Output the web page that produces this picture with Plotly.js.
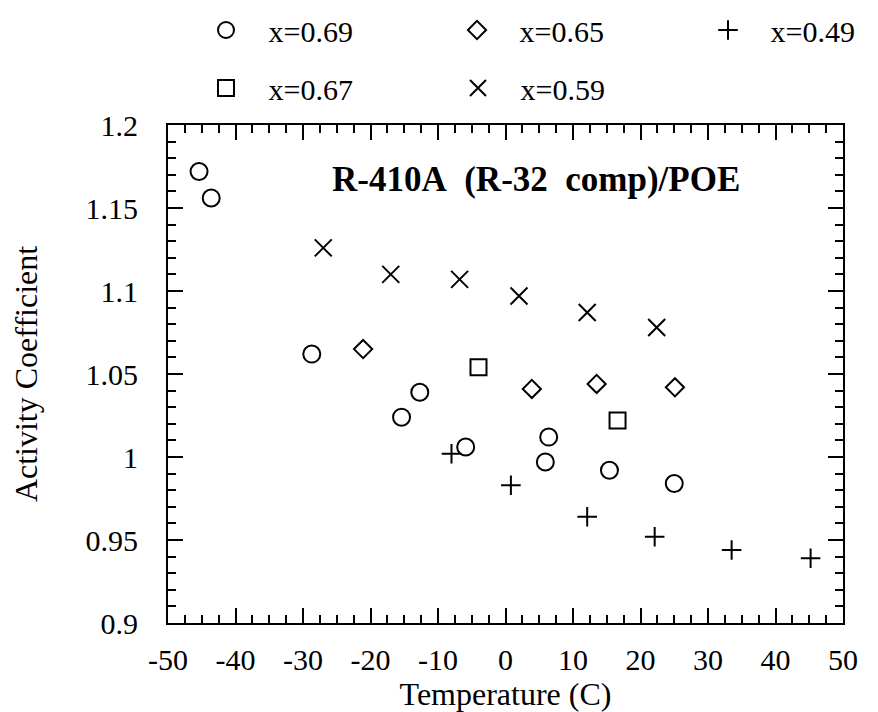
<!DOCTYPE html>
<html>
<head>
<meta charset="utf-8">
<script src="https://cdn.plot.ly/plotly-3.0.1.min.js"></script>
<style>html,body{margin:0;padding:0;background:#fff}#chart{width:878px;height:712px}</style>
</head>
<body>
<div id="chart"></div>
<script>
// x = 0.69 (circles)
const circX = [-45.4, -43.6, -28.7, -15.4, -12.7, -5.9, 5.9, 6.4, 15.4, 25.0];
const circY = [1.172, 1.156, 1.062, 1.024, 1.039, 1.006, 0.997, 1.012, 0.992, 0.984];
// x = 0.65 (diamonds)
const diamX = [-21.1, 3.9, 13.5, 25.1];
const diamY = [1.065, 1.041, 1.044, 1.042];
// x = 0.49 (plus)
const plusX = [-8.0, 0.8, 12.1, 22.1, 33.5, 45.2];
const plusY = [1.002, 0.983, 0.964, 0.952, 0.944, 0.939];
// x = 0.67 (squares)
const sqX = [-4.0, 16.6];
const sqY = [1.054, 1.022];
// x = 0.59 (x marks)
const xmX = [-27.0, -17.0, -6.8, 2.0, 12.1, 22.4];
const xmY = [1.126, 1.110, 1.107, 1.097, 1.087, 1.078];

const seriesNames = ["x=0.69", "x=0.65", "x=0.49", "x=0.67", "x=0.59"];

const xTickVals = [-50, -40, -30, -20, -10, 0, 10, 20, 30, 40, 50];
const xTickText = ["-50", "-40", "-30", "-20", "-10", "0", "10", "20", "30", "40", "50"];
const yTickVals = [0.9, 0.95, 1.0, 1.05, 1.1, 1.15, 1.2];
const yTickText = ["0.9", "0.95", "1", "1.05", "1.1", "1.15", "1.2"];

const NB = "\u00A0\u00A0\u00A0";
const FONT = "Liberation Serif, Times New Roman, serif";

function tr(x, y, name, symbol, size, legend) {
  return {
    x: x, y: y, name: NB + name, type: "scatter", mode: "markers", legend: legend,
    marker: {symbol: symbol, size: size, color: "#000",
             line: {color: "#000", width: 2}}
  };
}

const data = [
  tr(circX, circY, seriesNames[0], "circle-open", 17, "legend"),
  tr(diamX, diamY, seriesNames[1], "diamond-open", 14, "legend2"),
  tr(plusX, plusY, seriesNames[2], "cross-thin-open", 14, "legend3"),
  tr(sqX, sqY, seriesNames[3], "square-open", 16, "legend4"),
  tr(xmX, xmY, seriesNames[4], "x-thin-open", 17, "legend5")
];

const axisCommon = {
  showline: true, linecolor: "#000", linewidth: 2, mirror: "ticks",
  ticks: "inside", ticklen: 15, tickwidth: 2, tickcolor: "#000",
  showgrid: false, zeroline: false,
  tickfont: {family: FONT, size: 30, color: "#000"}
};

function leg(xpx, ypx) {
  return {
    orientation: "h", xref: "container", yref: "container",
    xanchor: "left", yanchor: "middle",
    x: xpx / 878, y: 1 - ypx / 712,
    font: {family: FONT, size: 30, color: "#000"},
    bgcolor: "rgba(0,0,0,0)", borderwidth: 0, itemclick: false
  };
}

const layout = {
  width: 878, height: 712,
  margin: {l: 168, r: 35, t: 125, b: 89},
  paper_bgcolor: "#fff", plot_bgcolor: "#fff",
  showlegend: true,
  xaxis: Object.assign({}, axisCommon, {
    range: [-50, 50], tickmode: "array", tickvals: xTickVals, ticktext: xTickText,
    minor: {dtick: 2.5, ticks: "inside", ticklen: 8, tickwidth: 2, tickcolor: "#000"},
    ticklabelstandoff: 9,
    title: {text: "Temperature (C)\u00A0\u00A0", font: {family: FONT, size: 32, color: "#000"}, standoff: 0}
  }),
  yaxis: Object.assign({}, axisCommon, {
    range: [0.9, 1.2], tickmode: "array", tickvals: yTickVals, ticktext: yTickText,
    minor: {dtick: 0.01, ticks: "inside", ticklen: 8, tickwidth: 2, tickcolor: "#000"},
    ticklabelstandoff: 22,
    title: {text: "Activity Coefficient", font: {family: FONT, size: 32, color: "#000"}, standoff: 38}
  }),
  legend: leg(206, 30),
  legend2: leg(457, 30),
  legend3: leg(708, 30),
  legend4: leg(206, 88),
  legend5: leg(458, 88),
  annotations: [{
    text: "<b>R-410A\u00A0\u00A0(R-32\u00A0\u00A0comp)/POE</b>",
    xref: "paper", yref: "paper", x: 0.545, y: 0.89, showarrow: false,
    xanchor: "center", yanchor: "middle",
    font: {family: FONT, size: 35, color: "#000"}
  }]
};

Plotly.newPlot("chart", data, layout, {staticPlot: true, displayModeBar: false});
</script>
</body>
</html>
